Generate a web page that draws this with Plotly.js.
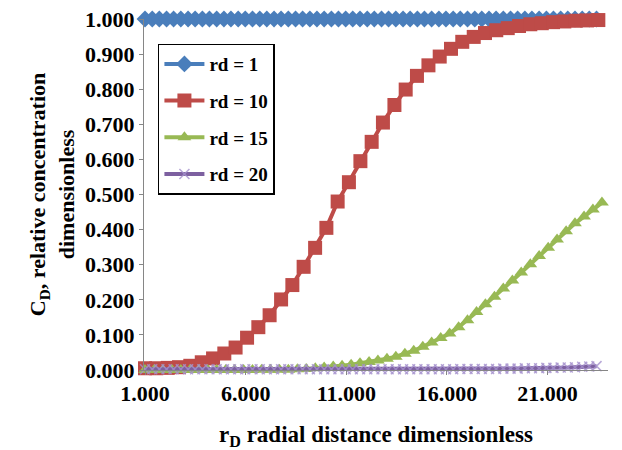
<!DOCTYPE html>
<html>
<head>
<meta charset="utf-8">
<script src="https://cdn.plot.ly/plotly-3.0.1.min.js"></script>
<style>html,body{margin:0;padding:0;background:#fff;}#chart{width:622px;height:450px;}</style>
</head>
<body>
<div id="chart"></div>
<script>
// Series names
const seriesNames = ["rd = 1", "rd = 10", "rd = 15", "rd = 20"];

// x positions (rD) for the densely sampled series (rd = 1 and rd = 20)
const xDense = [1.00, 1.36, 1.71, 2.07, 2.42, 2.78, 3.14, 3.49, 3.85, 4.20, 4.56, 4.92, 5.27, 5.63, 5.98, 6.34,
  6.70, 7.05, 7.41, 7.76, 8.12, 8.48, 8.83, 9.19, 9.54, 9.90, 10.26, 10.61, 10.97, 11.32, 11.68, 12.04,
  12.39, 12.75, 13.10, 13.46, 13.82, 14.17, 14.53, 14.88, 15.24, 15.60, 15.95, 16.31, 16.66, 17.02, 17.38, 17.73,
  18.09, 18.44, 18.80, 19.16, 19.51, 19.87, 20.22, 20.58, 20.94, 21.29, 21.65, 22.00, 22.36, 22.72, 23.07, 23.43];

// rd = 1
const cd1 = [1,1,1,1,1,1,1,1,1,1,1,1,1,1,1,1,1,1,1,1,1,1,1,1,1,1,1,1,1,1,1,1,
  1,1,1,1,1,1,1,1,1,1,1,1,1,1,1,1,1,1,1,1,1,1,1,1,1,1,1,1,1,1,1,1];

// rd = 20
const cd20 = [0.002,0.002,0.002,0.002,0.002,0.002,0.002,0.002,0.002,0.002,0.002,0.002,0.002,0.002,0.002,0.002,
  0.002,0.002,0.002,0.002,0.002,0.002,0.002,0.002,0.002,0.002,0.002,0.002,0.002,0.002,0.002,0.002,
  0.002,0.002,0.002,0.002,0.002,0.002,0.002,0.002,0.002,0.002,0.002,0.002,0.003,0.003,0.003,0.003,
  0.003,0.003,0.004,0.004,0.004,0.005,0.005,0.005,0.006,0.006,0.007,0.007,0.008,0.009,0.010,0.011];

// rd = 10
const xRd10 = [1.00, 1.56, 2.13, 2.69, 3.25, 3.82, 4.38, 4.94, 5.50, 6.07, 6.63, 7.19, 7.76, 8.32, 8.88, 9.45,
  10.01, 10.57, 11.13, 11.70, 12.26, 12.82, 13.39, 13.95, 14.51, 15.08, 15.64, 16.20, 16.76, 17.33, 17.89, 18.45,
  19.02, 19.58, 20.14, 20.71, 21.27, 21.83, 22.39, 22.96, 23.52];
const cd10 = [0.005, 0.005, 0.006, 0.008, 0.012, 0.022, 0.033, 0.047, 0.064, 0.092, 0.122, 0.156, 0.201, 0.242, 0.294, 0.348,
  0.405, 0.480, 0.535, 0.595, 0.650, 0.705, 0.755, 0.799, 0.838, 0.868, 0.893, 0.915, 0.935, 0.949, 0.960, 0.968,
  0.974, 0.980, 0.985, 0.988, 0.991, 0.993, 0.995, 0.996, 0.997];

// rd = 15
const xRd15 = [1.00, 1.45, 1.89, 2.34, 2.78, 3.23, 3.67, 4.12, 4.56, 5.01, 5.45, 5.90, 6.34, 6.79, 7.23, 7.68,
  8.12, 8.57, 9.01, 9.46, 9.90, 10.35, 10.79, 11.24, 11.68, 12.13, 12.57, 13.02, 13.46, 13.91, 14.35, 14.80,
  15.24, 15.69, 16.13, 16.58, 17.02, 17.47, 17.91, 18.36, 18.80, 19.25, 19.69, 20.14, 20.58, 21.03, 21.47, 21.92,
  22.36, 22.81, 23.25, 23.70];
const cd15 = [0,0,0,0,0,0,0,0,0,0,0,0,0,0.001,0.001,0.001,
  0.001,0.002,0.003,0.005,0.007,0.010,0.012,0.015,0.019,0.023,0.027,0.032,0.038,0.046,0.055,0.066,
  0.078,0.091,0.104,0.122,0.142,0.165,0.187,0.209,0.232,0.255,0.278,0.301,0.325,0.348,0.372,0.395,
  0.418,0.437,0.457,0.477];

// tick values
const xTicks = [1, 6, 11, 16, 21];
const yTicks = [0, 0.1, 0.2, 0.3, 0.4, 0.5, 0.6, 0.7, 0.8, 0.9, 1.0];

const colors = ["#4A7EBB", "#BE4B48", "#98B954", "#7D60A0"];
const FONT = "'Liberation Serif', 'Times New Roman', serif";

const traces = [
  {x: xDense, y: cd1, name: seriesNames[0], legendgroup: "a", mode: "lines+markers", cliponaxis: false,
   line: {color: colors[0], width: 4}, marker: {symbol: "diamond", size: 13, color: colors[0]}},
  {x: xRd10, y: cd10, name: seriesNames[1], legendgroup: "b", mode: "lines+markers", cliponaxis: false,
   line: {color: colors[1], width: 4}, marker: {symbol: "square", size: 14, color: colors[1]}},
  {x: xRd15, y: cd15, name: seriesNames[2], legendgroup: "c", mode: "lines+markers", cliponaxis: false,
   line: {color: colors[2], width: 4}, marker: {symbol: "triangle-up", size: 12, color: colors[2]}},
  {x: xDense, y: cd20, name: seriesNames[3], legendgroup: "d", mode: "lines+markers", cliponaxis: false,
   line: {color: colors[3], width: 4},
   marker: {symbol: "x-thin", size: 10, color: "rgba(165,145,205,0.8)", line: {width: 1.5, color: "rgba(165,145,205,0.8)"}}}
];

const layout = {
  width: 622, height: 450,
  margin: {l: 144, r: 14, t: 19, b: 80},
  paper_bgcolor: "#fff", plot_bgcolor: "#fff",
  font: {family: FONT, size: 22, color: "#000", weight: "bold"},
  showlegend: true,
  legend: {x: 0.03, y: 0.93, xanchor: "left", yanchor: "top",
    bordercolor: "#000", borderwidth: 1.5, bgcolor: "#fff",
    font: {family: FONT, size: 19, color: "#000", weight: "bold"},
    traceorder: "grouped", tracegroupgap: 9, itemwidth: 40},
  xaxis: {
    automargin: false,
    range: [0.95, 24.0], tickvals: xTicks, tickformat: ".3f",
    showgrid: false, zeroline: false, showline: true, linecolor: "#868686", linewidth: 1,
    ticks: "outside", ticklen: 4, tickcolor: "#868686",
    tickfont: {family: FONT, size: 22, color: "#000", weight: "bold"},
    title: {text: "r<sub>D</sub> radial distance dimensionless", standoff: 20,
      font: {family: FONT, size: 23, color: "#000", weight: "bold"}}
  },
  yaxis: {
    automargin: false,
    range: [0, 1], tickvals: yTicks, tickformat: ".3f",
    showgrid: false, zeroline: false, showline: true, linecolor: "#868686", linewidth: 1,
    ticks: "outside", ticklen: 4, tickcolor: "#868686",
    tickfont: {family: FONT, size: 22, color: "#000", weight: "bold"},
    title: {text: "C<sub>D</sub>, relative concentration<br>dimensionless", standoff: 4,
      font: {family: FONT, size: 22, color: "#000", weight: "bold"}}
  }
};

Plotly.newPlot("chart", traces, layout, {displayModeBar: false, staticPlot: true});
</script>
</body>
</html>
